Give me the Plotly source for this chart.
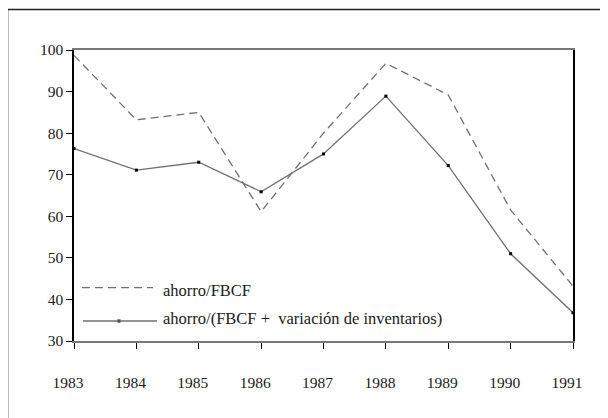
import plotly.graph_objects as go

years = [1983, 1984, 1985, 1986, 1987, 1988, 1989, 1990, 1991]
ahorro_fbcf = [98.7, 83.2, 85.0, 61.1, 80.0, 96.8, 89.2, 61.5, 43.2]
ahorro_fbcf_inv = [76.3, 71.1, 73.0, 65.9, 75.0, 88.9, 72.2, 51.0, 36.8]
legend_labels = ["ahorro/FBCF", "ahorro/(FBCF +  variación de inventarios)"]
y_ticks = [30, 40, 50, 60, 70, 80, 90, 100]

FONT = "Liberation Serif"
LINE = "#707070"

fig = go.Figure()
fig.add_trace(go.Scatter(x=years, y=ahorro_fbcf, mode="lines",
                         line=dict(color=LINE, width=1.3, dash="8px,5px"),
                         name=legend_labels[0], showlegend=False))
fig.add_trace(go.Scatter(x=years, y=ahorro_fbcf_inv, mode="lines+markers",
                         line=dict(color=LINE, width=1.3),
                         marker=dict(symbol="square", size=3, color="black"),
                         name=legend_labels[1], showlegend=False))

# page body has an 8px margin: work in page (screen) pixels and convert
OFF = 8
W, H = 608, 418
PL, PR, PT, PB = 74, 573, 50, 341  # plot area in screen px
L, T = PL - OFF, PT - OFF
R, B = W - (PR - OFF), H - (PB - OFF)
pw, ph = PR - PL, PB - PT

def px(x):
    return (x - PL) / pw

def py(y):
    return (PB - y) / ph

shapes = [
    dict(type="rect", xref="paper", yref="paper", x0=px(7.5), x1=px(640),
         y0=py(440), y1=py(9.5), line=dict(color="#222", width=1.6), layer="below"),
    dict(type="line", xref="paper", yref="paper", x0=px(82), x1=px(153),
         y0=py(287.7), y1=py(287.7), line=dict(color=LINE, width=1.3, dash="8px,5px")),
    dict(type="line", xref="paper", yref="paper", x0=px(83), x1=px(157),
         y0=py(321), y1=py(321), line=dict(color=LINE, width=1.3)),
]
annotations = [
    dict(xref="paper", yref="paper", x=px(161), y=py(290), text=legend_labels[0],
         showarrow=False, xanchor="left", yanchor="middle",
         font=dict(family=FONT, size=16.5, color="#1a1a1a")),
    dict(xref="paper", yref="paper", x=px(161), y=py(318), text=legend_labels[1],
         showarrow=False, xanchor="left", yanchor="middle",
         font=dict(family=FONT, size=16.5, color="#1a1a1a")),
]
fig.add_trace(go.Scatter(x=[px(119)], y=[py(321)], xaxis="x2", yaxis="y2",
                         mode="markers", marker=dict(symbol="square", size=3, color="black"),
                         showlegend=False, hoverinfo="skip"))

fig.update_layout(
    width=W, height=H,
    margin=dict(l=L, r=R, t=T, b=B),
    paper_bgcolor="white", plot_bgcolor="white",
    font=dict(family=FONT, size=15.5, color="#1a1a1a"),
    shapes=shapes, annotations=annotations,
    xaxis=dict(range=[1983, 1991], tickvals=years, ticktext=[str(y) for y in years],
               showgrid=False, zeroline=False, showline=True, linecolor="#777",
               linewidth=1.8, mirror=True, ticks="outside", ticklen=6, tickcolor="black",
               tickwidth=1.2, ticklabelstandoff=20, ticklabelshift=-6,
               tickfont=dict(family=FONT, size=15.5)),
    yaxis=dict(range=[30, 100], tickvals=y_ticks, showgrid=False, zeroline=False,
               showline=True, linecolor="black", linewidth=1.5, mirror=True,
               ticks="outside", ticklen=6, tickcolor="black", tickwidth=1.2,
               tickfont=dict(family=FONT, size=15.5)),
    xaxis2=dict(range=[0, 1], overlaying="x", visible=False, anchor="y2"),
    yaxis2=dict(range=[0, 1], overlaying="y", visible=False, anchor="x2"),
)

fig.write_html("out.html")
